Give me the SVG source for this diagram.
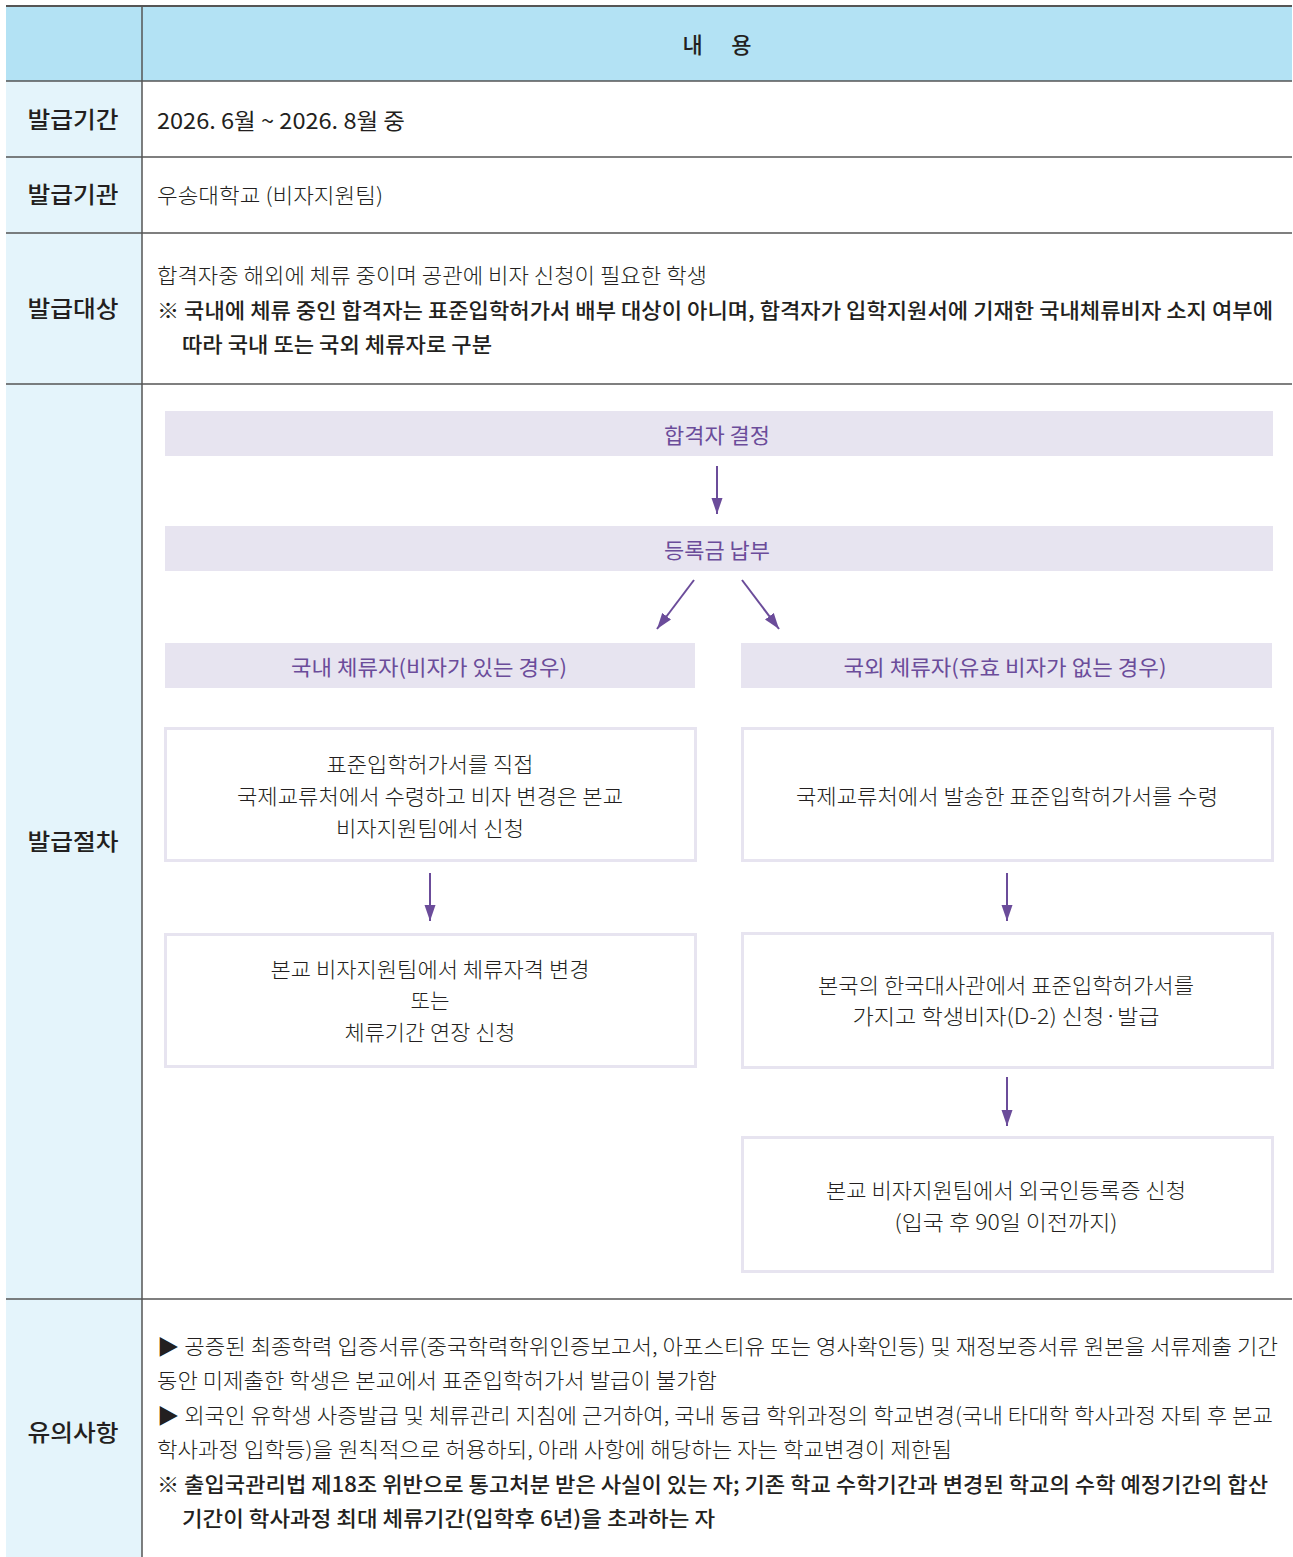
<svg xmlns="http://www.w3.org/2000/svg" width="1293" height="1557" viewBox="0 0 1293 1557">
<style>
text{font-family:"Noto Sans CJK KR","Noto Sans",sans-serif;fill:#231f20;}
.lbl{font-size:23px;font-weight:500;text-anchor:middle;}
.hd{font-size:22px;font-weight:500;text-anchor:middle;}
.t{font-size:21px;font-weight:300;}
.tb{font-size:21px;font-weight:500;}
.tm{font-size:21px;font-weight:300;text-anchor:middle;}
.pt{font-size:21px;font-weight:400;text-anchor:middle;fill:#6b4c9a;}
.band{fill:#e7e4f0;}
.box{fill:#ffffff;stroke:#e7e4f0;stroke-width:3;}
.grid{stroke:#555555;stroke-width:1.5;fill:none;}
.arr{stroke:#6b4c9a;stroke-width:2;fill:none;marker-end:url(#ah);}
</style>
<defs>
<marker id="ah" markerUnits="userSpaceOnUse" markerWidth="18" markerHeight="12" refX="16" refY="6" orient="auto">
<path d="M0,0.5 L16,6 L0,11.5 z" fill="#6b4c9a"/>
</marker>
</defs>
<rect x="0" y="0" width="1293" height="1557" fill="#ffffff"/>
<g id="table">
<rect x="6" y="6" width="1286" height="75" fill="#b3e2f4"/>
<rect x="6" y="81" width="136" height="1476" fill="#e4f4fb"/>
<line class="grid" x1="6" y1="6" x2="1292" y2="6" style="stroke-width:2"/>
<line class="grid" x1="6" y1="81" x2="1292" y2="81"/>
<line class="grid" x1="6" y1="157" x2="1292" y2="157"/>
<line class="grid" x1="6" y1="233" x2="1292" y2="233"/>
<line class="grid" x1="6" y1="384" x2="1292" y2="384"/>
<line class="grid" x1="6" y1="1299" x2="1292" y2="1299"/>
<line class="grid" x1="142" y1="6" x2="142" y2="1557"/>
</g>
<g id="header"><text class="hd" x="717" y="53" textLength="69" lengthAdjust="spacing">내 용</text></g>
<g id="labels">
<text class="lbl" x="73" y="128" textLength="91" lengthAdjust="spacingAndGlyphs">발급기간</text>
<text class="lbl" x="73" y="203" textLength="91" lengthAdjust="spacingAndGlyphs">발급기관</text>
<text class="lbl" x="73" y="317" textLength="91" lengthAdjust="spacingAndGlyphs">발급대상</text>
<text class="lbl" x="73" y="850" textLength="91" lengthAdjust="spacingAndGlyphs">발급절차</text>
<text class="lbl" x="73" y="1441" textLength="91" lengthAdjust="spacingAndGlyphs">유의사항</text>
</g>
<g id="row-period"><text class="tb" x="157" y="129" textLength="248" lengthAdjust="spacingAndGlyphs" style="font-size:22px;font-weight:400">2026. 6월 ~ 2026. 8월 중</text></g>
<g id="row-agency"><text class="t" x="157" y="203" textLength="226" lengthAdjust="spacingAndGlyphs">우송대학교 (비자지원팀)</text></g>
<g id="row-target">
<text class="t" x="157" y="283" textLength="550" lengthAdjust="spacingAndGlyphs">합격자중 해외에 체류 중이며 공관에 비자 신청이 필요한 학생</text>
<text class="tb" x="157" y="318" textLength="1116" lengthAdjust="spacingAndGlyphs">※ 국내에 체류 중인 합격자는 표준입학허가서 배부 대상이 아니며, 합격자가 입학지원서에 기재한 국내체류비자 소지 여부에</text>
<text class="tb" x="182" y="352" textLength="310" lengthAdjust="spacingAndGlyphs">따라 국내 또는 국외 체류자로 구분</text>
</g>
<g id="connectors">
<line class="arr" x1="717" y1="466" x2="717" y2="514"/>
<line class="arr" x1="694" y1="580" x2="657" y2="629"/>
<line class="arr" x1="742" y1="580" x2="779" y2="629"/>
<line class="arr" x1="430" y1="873" x2="430" y2="921"/>
<line class="arr" x1="1007" y1="873" x2="1007" y2="921"/>
<line class="arr" x1="1007" y1="1077" x2="1007" y2="1126"/>
</g>
<g id="n-decision">
<rect class="band" x="165" y="411" width="1108" height="45"/>
<text class="pt" x="717" y="443" textLength="106" lengthAdjust="spacingAndGlyphs">합격자 결정</text>
</g>
<g id="n-tuition">
<rect class="band" x="165" y="526" width="1108" height="45"/>
<text class="pt" x="717" y="558" textLength="106" lengthAdjust="spacingAndGlyphs">등록금 납부</text>
</g>
<g id="n-domestic">
<rect class="band" x="165" y="643" width="530" height="45"/>
<text class="pt" x="429" y="675" textLength="276" lengthAdjust="spacingAndGlyphs">국내 체류자(비자가 있는 경우)</text>
</g>
<g id="n-overseas">
<rect class="band" x="741" y="643" width="531" height="45"/>
<text class="pt" x="1005" y="675" textLength="323" lengthAdjust="spacingAndGlyphs">국외 체류자(유효 비자가 없는 경우)</text>
</g>
<g id="n-d1">
<rect class="box" x="165.5" y="728.5" width="530" height="132"/>
<text class="tm" x="430" y="772" textLength="207" lengthAdjust="spacingAndGlyphs">표준입학허가서를 직접</text>
<text class="tm" x="430" y="804" textLength="386" lengthAdjust="spacingAndGlyphs">국제교류처에서 수령하고 비자 변경은 본교</text>
<text class="tm" x="430" y="836" textLength="188" lengthAdjust="spacingAndGlyphs">비자지원팀에서 신청</text>
</g>
<g id="n-d2">
<rect class="box" x="165.5" y="934.5" width="530" height="132"/>
<text class="tm" x="430" y="977" textLength="319" lengthAdjust="spacingAndGlyphs">본교 비자지원팀에서 체류자격 변경</text>
<text class="tm" x="430" y="1008" textLength="39" lengthAdjust="spacingAndGlyphs">또는</text>
<text class="tm" x="430" y="1040" textLength="171" lengthAdjust="spacingAndGlyphs">체류기간 연장 신청</text>
</g>
<g id="n-o1">
<rect class="box" x="742.5" y="728.5" width="530" height="132"/>
<text class="tm" x="1007" y="804" textLength="422" lengthAdjust="spacingAndGlyphs">국제교류처에서 발송한 표준입학허가서를 수령</text>
</g>
<g id="n-o2">
<rect class="box" x="742.5" y="933.5" width="530" height="134"/>
<text class="tm" x="1006" y="993" textLength="376" lengthAdjust="spacingAndGlyphs">본국의 한국대사관에서 표준입학허가서를</text>
<text class="tm" x="1006" y="1024" textLength="307" lengthAdjust="spacingAndGlyphs">가지고 학생비자(D-2) 신청·발급</text>
</g>
<g id="n-o3">
<rect class="box" x="742.5" y="1137.5" width="530" height="134"/>
<text class="tm" x="1006" y="1198" textLength="360" lengthAdjust="spacingAndGlyphs">본교 비자지원팀에서 외국인등록증 신청</text>
<text class="tm" x="1006" y="1230" textLength="223" lengthAdjust="spacingAndGlyphs">(입국 후 90일 이전까지)</text>
</g>
<g id="row-notes">
<text class="t" x="157" y="1354" textLength="1121" lengthAdjust="spacingAndGlyphs">▶ 공증된 최종학력 입증서류(중국학력학위인증보고서, 아포스티유 또는 영사확인등) 및 재정보증서류 원본을 서류제출 기간</text>
<text class="t" x="157" y="1388" textLength="560" lengthAdjust="spacingAndGlyphs">동안 미제출한 학생은 본교에서 표준입학허가서 발급이 불가함</text>
<text class="t" x="157" y="1423" textLength="1116" lengthAdjust="spacingAndGlyphs">▶ 외국인 유학생 사증발급 및 체류관리 지침에 근거하여, 국내 동급 학위과정의 학교변경(국내 타대학 학사과정 자퇴 후 본교</text>
<text class="t" x="157" y="1457" textLength="795" lengthAdjust="spacingAndGlyphs">학사과정 입학등)을 원칙적으로 허용하되, 아래 사항에 해당하는 자는 학교변경이 제한됨</text>
<text class="tb" x="157" y="1492" textLength="1111" lengthAdjust="spacingAndGlyphs">※ 출입국관리법 제18조 위반으로 통고처분 받은 사실이 있는 자; 기존 학교 수학기간과 변경된 학교의 수학 예정기간의 합산</text>
<text class="tb" x="182" y="1526" textLength="533" lengthAdjust="spacingAndGlyphs">기간이 학사과정 최대 체류기간(입학후 6년)을 초과하는 자</text>
</g>
</svg>
